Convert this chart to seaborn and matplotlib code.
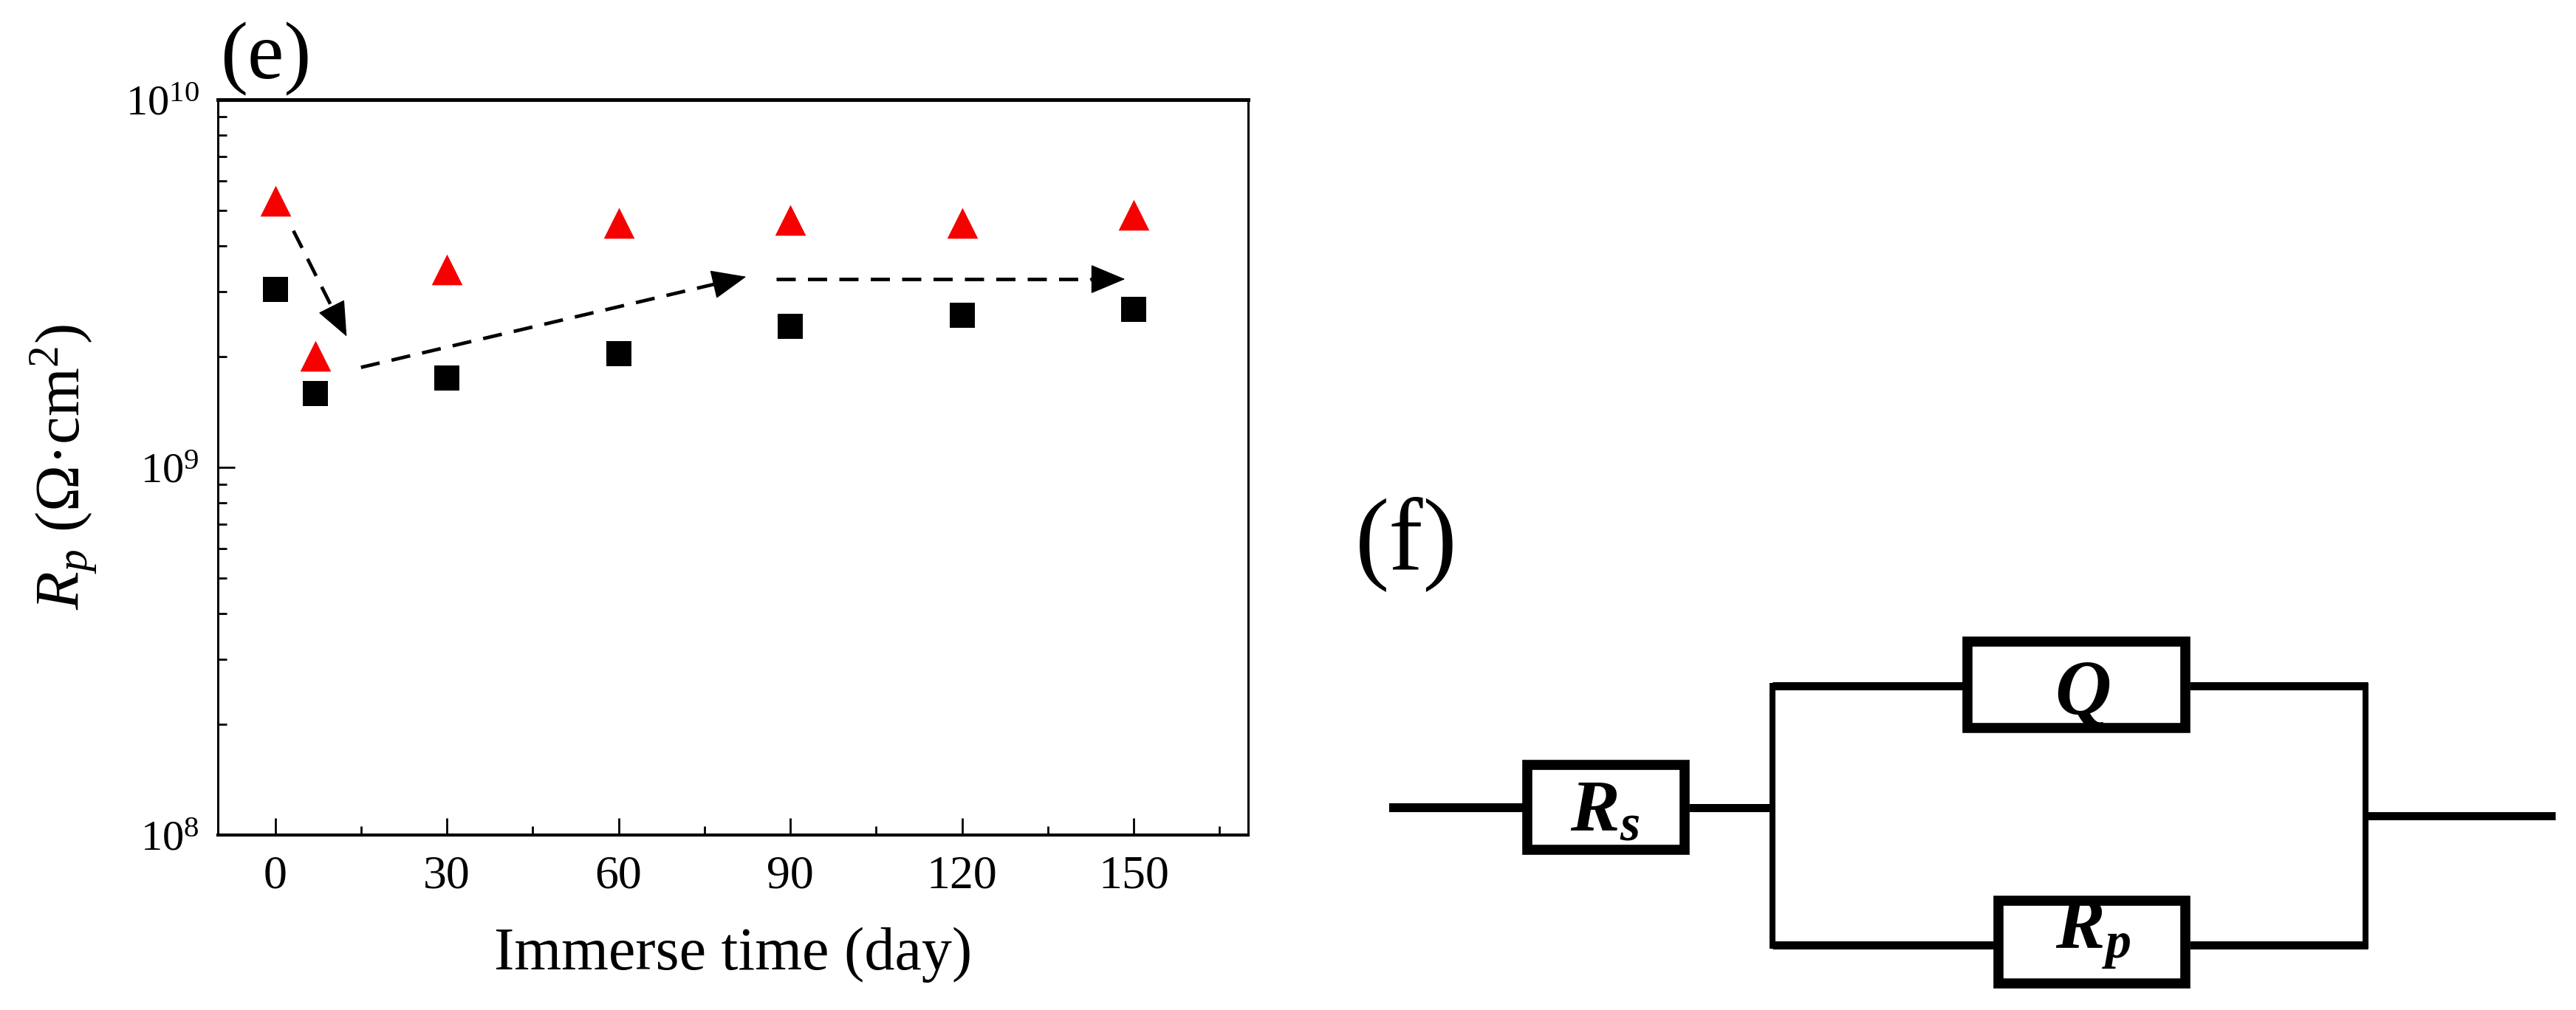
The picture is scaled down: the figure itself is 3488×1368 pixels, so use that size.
import math
import matplotlib
matplotlib.use('Agg')
import matplotlib.pyplot as plt
import matplotlib.ticker as mticker
from matplotlib.patches import Rectangle
import pandas as pd
import seaborn as sns

days = [0, 7, 30, 60, 90, 120, 150]
rp_red = [5.3e9, 2.01e9, 3.45e9, 4.62e9, 4.71e9, 4.62e9, 4.86e9]
rp_black = [3.05e9, 1.59e9, 1.75e9, 2.04e9, 2.42e9, 2.59e9, 2.69e9]

# dashed trend arrows: (x0, y0, x1, y1) in data units
trend_arrows = [
    (3.2, 4.4e9, 12.5, 2.27e9),
    (15, 1.87e9, 82.3, 3.3e9),
    (87.5, 3.25e9, 148.5, 3.25e9),
]

xticks = [0, 30, 60, 90, 120, 150]

# circuit (f), in image pixels
wires = [
    (1881, 1094, 2062, 1094, 12),
    (2287, 1094, 2400, 1094, 11),
    (2400, 925, 2400, 1285, 8),
    (2400, 929, 2658, 929, 11),
    (2965, 929, 3206, 929, 11),
    (3203, 925, 3203, 1285, 8),
    (2400, 1280, 2700, 1280, 11),
    (2965, 1280, 3206, 1280, 11),
    (3206, 1105, 3460, 1105, 11),
]
boxes = [
    (2068, 1036, 213, 115),
    (2664, 869, 295, 117),
    (2706, 1220, 253, 112),
]
circuit_labels = [
    (2126, 1126, r'$\mathbfit{R}_{\mathbfit{s}}$', 72),
    (2782, 966, r'$\mathbfit{Q}$', 76),
    (2783, 1285, r'$\mathbfit{R}_{\mathbfit{p}}$', 72),
]

sns.set_theme(style='ticks')
plt.rcParams['font.family'] = ['Liberation Serif', 'DejaVu Serif']
plt.rcParams['mathtext.fontset'] = 'custom'
plt.rcParams['mathtext.rm'] = 'Liberation Serif'
plt.rcParams['mathtext.it'] = 'Liberation Serif:italic'
plt.rcParams['mathtext.bf'] = 'Liberation Serif:bold'
plt.rcParams['mathtext.bfit'] = 'Liberation Serif:italic:bold'

W, H = 3488, 1368
fig = plt.figure(figsize=(W / 100, H / 100), dpi=100, facecolor='white')
ax = fig.add_axes([295 / W, 1 - 1131 / H, 1395 / W, 996 / H])

df = pd.DataFrame({'day': days, 'red': rp_red, 'black': rp_black})
sns.scatterplot(data=df, x='day', y='red', marker='^', s=900, color='#f60000', linewidth=0, ax=ax, zorder=3)
sns.scatterplot(data=df, x='day', y='black', marker='s', s=570, color='black', linewidth=0, ax=ax, zorder=3)

ax.set_yscale('log')
ax.set_xlim(-10, 170)
ax.set_ylim(1e8, 1e10)
ax.set_xticks(xticks)
ax.xaxis.set_minor_locator(mticker.MultipleLocator(15))
ax.yaxis.set_major_locator(mticker.FixedLocator([1e8, 1e9, 1e10]))
ax.yaxis.set_major_formatter(mticker.FuncFormatter(lambda v, p: r'$\mathregular{10^{%d}}$' % round(math.log10(v))))
ax.yaxis.set_minor_locator(mticker.LogLocator(base=10, subs=range(2, 10), numticks=12))
ax.yaxis.set_minor_formatter(mticker.NullFormatter())

ax.tick_params(axis='x', which='major', direction='in', length=16.5, width=2, labelsize=46, pad=20, color='black', labelcolor='black')
ax.tick_params(axis='y', which='major', direction='in', length=16.5, width=2, labelsize=42, pad=18, color='black', labelcolor='black')
ax.tick_params(which='minor', direction='in', length=8.5, width=2, color='black')

for side, lw in [('top', 3.6), ('bottom', 3), ('left', 2.2), ('right', 2.2)]:
    ax.spines[side].set_visible(True)
    ax.spines[side].set_linewidth(lw)
    ax.spines[side].set_color('black')

ax.set_xlabel('Immerse time (day)', fontsize=59, color='black', labelpad=28)
ax.set_ylabel(r'$\mathit{R}_{\mathit{p}}$ ($\mathregular{\Omega}$·cm$^{\mathregular{2}}$)', fontsize=61, color='black')
ax.yaxis.set_label_coords(-0.115, 0.5)

for x0, y0, x1, y1 in trend_arrows:
    # line and head apart so the head stays solid
    ax.plot([x0, x0 + 0.93 * (x1 - x0)], [y0, y0 * (y1 / y0) ** 0.93], color='black', lw=3.4, dashes=(5.5, 3.5), zorder=4)
    ax.annotate('', xy=(x1, y1), xytext=(x0 + 0.9 * (x1 - x0), y0 * (y1 / y0) ** 0.9),
                arrowprops=dict(arrowstyle='-|>,head_length=31,head_width=13', color='black', lw=1,
                                shrinkA=0, shrinkB=0, mutation_scale=1), zorder=5)

# overlay in image pixels for panel letters and the circuit
over = fig.add_axes([0, 0, 1, 1])
over.set_xlim(0, W)
over.set_ylim(H, 0)
over.axis('off')
over.patch.set_visible(False)

over.text(298, 107, '(e)', fontsize=80, color='black', va='baseline', ha='left')
over.text(1835, 771, '(f)', fontsize=100, color='black', va='baseline', ha='left')

for x0, y0, x1, y1, lw in wires:
    over.plot([x0, x1], [y0, y1], color='black', lw=lw * 0.72, solid_capstyle='butt')
for x, y, w, h in boxes:
    over.add_patch(Rectangle((x, y), w, h, facecolor='white', edgecolor='black', lw=9.8, joinstyle='miter', zorder=3))
for x, y, s, size in circuit_labels:
    over.text(x, y, s, fontsize=size, color='black', va='baseline', ha='left', zorder=4)

fig.savefig('out.png', dpi=100, facecolor='white')
